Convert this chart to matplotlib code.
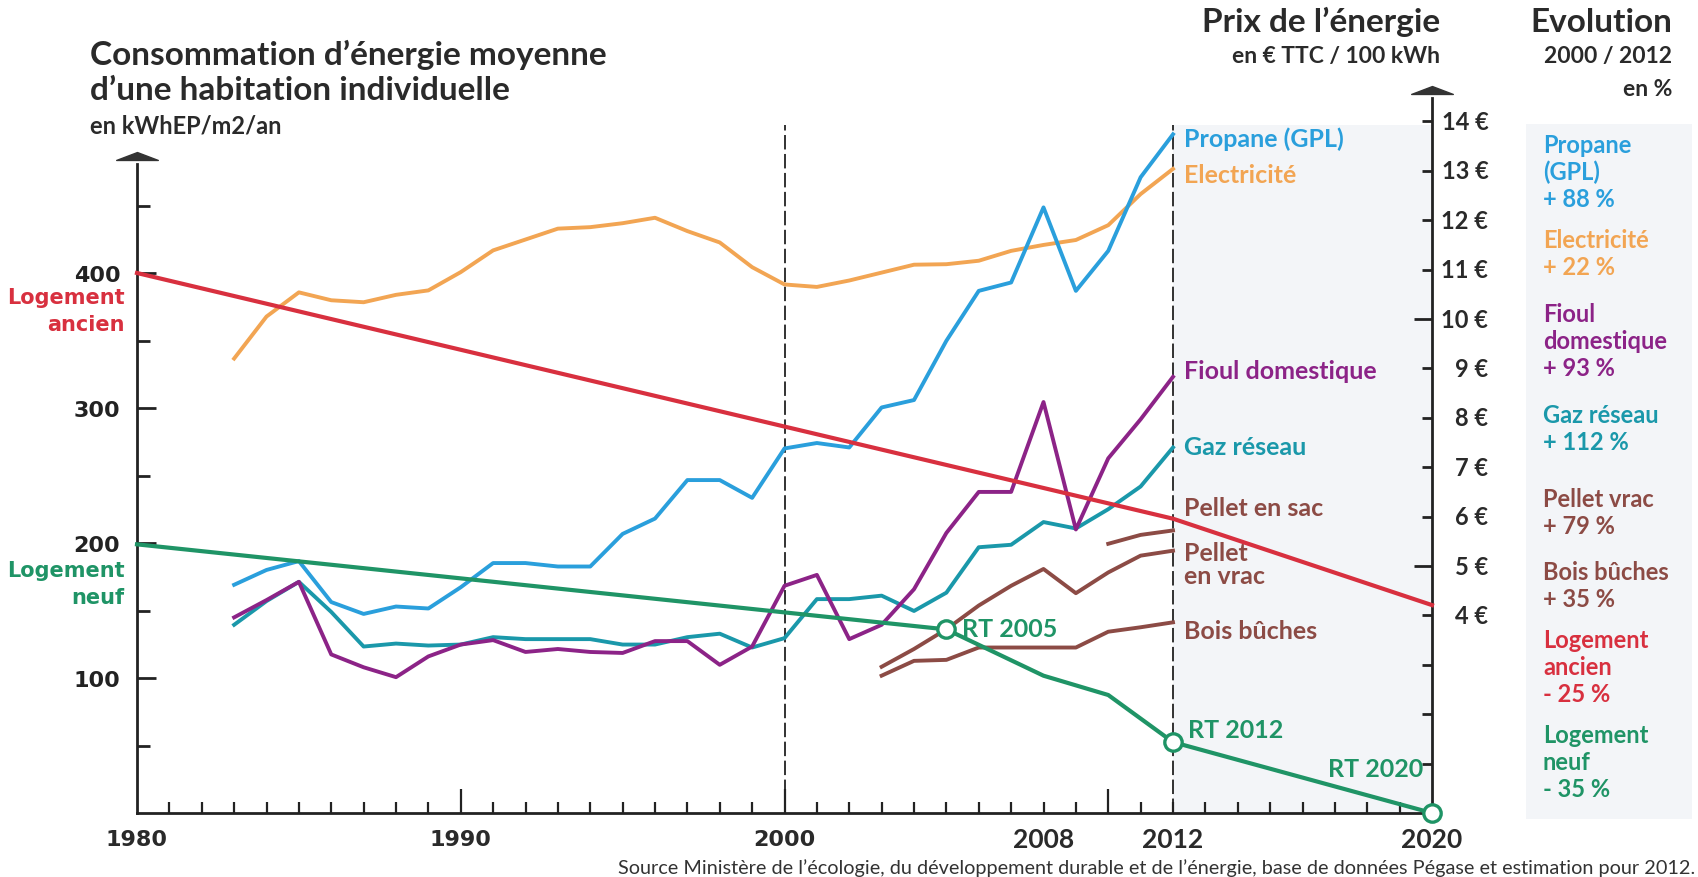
import matplotlib
matplotlib.use("Agg")
import matplotlib.pyplot as plt
from matplotlib.path import Path
from matplotlib.patches import Rectangle

# ---------------- data ----------------
years = list(range(1983, 2013))
propane = [4.62, 4.92, 5.10, 4.27, 4.03, 4.18, 4.14, 4.57, 5.06, 5.06, 4.99, 4.99, 5.65, 5.96, 6.74,
           6.74, 6.38, 7.38, 7.49, 7.40, 8.21, 8.36, 9.56, 10.57, 10.74, 12.26, 10.57, 11.38, 12.87, 13.74]
electricite = [9.20, 10.05, 10.54, 10.38, 10.34, 10.49, 10.58, 10.95, 11.39, 11.61, 11.83, 11.86, 11.94, 12.05,
               11.78, 11.55, 11.05, 10.70, 10.65, 10.78, 10.94, 11.10, 11.11, 11.18, 11.38, 11.50, 11.60,
               11.90, 12.53, 13.04]
fioul = [3.96, 4.31, 4.68, 3.21, 2.95, 2.75, 3.17, 3.41, 3.50, 3.26, 3.32, 3.26, 3.24, 3.48, 3.48, 3.00,
         3.37, 4.60, 4.82, 3.52, 3.81, 4.53, 5.67, 6.50, 6.50, 8.32, 5.74, 7.18, 7.97, 8.83]
gaz = [3.81, 4.29, 4.68, 4.07, 3.37, 3.43, 3.39, 3.41, 3.56, 3.52, 3.52, 3.52, 3.41, 3.41, 3.56, 3.63,
       3.35, 3.54, 4.33, 4.33, 4.40, 4.09, 4.46, 5.38, 5.43, 5.89, 5.76, 6.15, 6.61, 7.40]
years_bois = list(range(2003, 2013))
pellet_vrac = [2.96, 3.32, 3.72, 4.20, 4.60, 4.94, 4.45, 4.87, 5.21, 5.31]
bois_buches = [2.78, 3.08, 3.10, 3.35, 3.35, 3.35, 3.35, 3.67, 3.76, 3.86]
years_sac = [2010, 2011, 2012]
pellet_sac = [5.45, 5.63, 5.72]

years_ancien = [1980, 2012, 2020]
logement_ancien = [400, 218, 154]
years_neuf = [1980, 2005, 2008, 2010, 2012, 2020]
logement_neuf = [199, 136, 101.7, 87.4, 52.5, 0]
rt_years = [2005, 2012, 2020]
rt_values = [136, 52.5, 0]
rt_labels = ["RT 2005", "RT 2012", "RT 2020"]

left_major = [100, 200, 300, 400]
left_minor = [50, 150, 250, 350, 450]
right_labels = [4, 5, 6, 7, 8, 9, 10, 11, 12, 13, 14]
right_minor = list(range(1, 15))
right_major = [5, 10]
x_labels = [1980, 1990, 2000, 2008, 2012, 2020]
x_major = [1990, 2000, 2010]

series_labels = ["Propane (GPL)", "Electricité", "Fioul domestique", "Gaz réseau",
                 "Pellet en sac", "Pellet\nen vrac", "Bois bûches"]
series_label_y = [13.66, 12.93, 8.96, 7.41, 6.19, 5.04, 3.69]

evo_lines = [["Propane", "(GPL)", "+ 88 %"], ["Electricité", "+ 22 %"],
             ["Fioul", "domestique", "+ 93 %"], ["Gaz réseau", "+ 112 %"],
             ["Pellet vrac", "+ 79 %"], ["Bois bûches", "+ 35 %"],
             ["Logement", "ancien", "- 25 %"], ["Logement", "neuf", "- 35 %"]]

# ---------------- style ----------------
C_PROP = "#2a9fdc"
C_ELEC = "#f2a553"
C_FIOUL = "#8c2387"
C_GAZ = "#1a98aa"
C_BOIS = "#8c4b45"
C_RED = "#d8303f"
C_GREEN = "#1f9466"
C_TXT = "#2a2a2a"
C_TINT = "#f3f5f8"
LATO = ["Lato", "DejaVu Sans"]
VERD = ["DejaVu Sans"]
evo_colors = [C_PROP, C_ELEC, C_FIOUL, C_GAZ, C_BOIS, C_BOIS, C_RED, C_GREEN]
evo_first_baseline = [153, 248, 322, 423, 507, 580, 648, 743]
series_colors = [C_PROP, C_ELEC, C_FIOUL, C_GAZ, C_BOIS, C_BOIS, C_BOIS]

W, H = 1698, 878
def fx(px):
    return px / W
def fy(py):
    return 1 - py / H

X0, X1 = 137, 1432      # pixel x of 1980 and 2020
Y0 = 814                # pixel y of value 0
PX_PER_KWH = 1.35
KWH_PER_EUR = 36.59
YMAX = 530

fig = plt.figure(figsize=(W / 100, H / 100), dpi=100)
fig.patch.set_facecolor("white")
ax = fig.add_axes([fx(X0), 1 - Y0 / H, (X1 - X0) / W, YMAX * PX_PER_KWH / H])
ax2 = ax.twinx()
ax.set_xlim(1980, 2020)
ax.set_ylim(0, YMAX)
ax2.set_ylim(0, YMAX / KWH_PER_EUR)
ax.set_zorder(ax2.get_zorder() + 1)
ax.patch.set_visible(False)
ax2.patch.set_visible(False)

# background tints
ax2.axvspan(2012, 2020, ymin=0, ymax=510 / YMAX, color=C_TINT, zorder=0, lw=0)
fig.add_artist(Rectangle((fx(1526), fy(820)), (1692 - 1526) / W, (820 - 125) / H,
                         transform=fig.transFigure, color=C_TINT, zorder=0, lw=0))

# dashed reference lines
for yr in [2000, 2012]:
    ax2.plot([yr, yr], [0, 510 / KWH_PER_EUR], color="#222222", lw=1.3, dashes=(8, 2.5), zorder=1)

# spines
for s in ["top", "right"]:
    ax.spines[s].set_visible(False)
for s in ["top", "left", "bottom"]:
    ax2.spines[s].set_visible(False)
ax.spines["left"].set_bounds(0, 481)
ax.spines["bottom"].set_bounds(1980, 2020)
ax2.spines["right"].set_bounds(0, 14.47)
for sp in [ax.spines["left"], ax.spines["bottom"], ax2.spines["right"]]:
    sp.set_linewidth(2.0)
    sp.set_color("#222222")

# arrows on top of axes
tri = Path([(-1, -0.19), (1, -0.19), (0, 0.19), (-1, -0.19)],
           [Path.MOVETO, Path.LINETO, Path.LINETO, Path.CLOSEPOLY])
ax.plot([1980], [487], marker=tri, ms=30, color="#333333", clip_on=False, zorder=5)
ax2.plot([2020], [14.63], marker=tri, ms=30, color="#333333", clip_on=False, zorder=5)

# ticks
ax.set_yticks(left_major)
ax.set_yticks(left_minor, minor=True)
ax.set_yticklabels([str(v) for v in left_major], fontdict=dict(family=VERD, weight="bold", size=16, color=C_TXT))
ax.tick_params(axis="y", which="major", direction="in", length=14, width=2, pad=12, colors="#222222")
ax.tick_params(axis="y", which="minor", direction="in", length=9, width=2, colors="#222222")
ax.set_xticks(x_major)
ax.set_xticks(list(range(1981, 2020)), minor=True)
ax.tick_params(axis="x", which="major", direction="in", length=17, width=1.6, labelbottom=False, colors="#222222")
ax.tick_params(axis="x", which="minor", direction="in", length=8, width=1.6, colors="#222222")
ax2.set_yticks(right_major)
ax2.set_yticks(right_minor, minor=True)
ax2.tick_params(axis="y", which="major", direction="in", length=13, width=2, labelright=False, colors="#222222")
ax2.tick_params(axis="y", which="minor", direction="in", length=7, width=2, colors="#222222")

for v in right_labels:
    ax2.annotate(f"{v} €", xy=(1, v), xycoords=("axes fraction", "data"), xytext=(40.5, 0),
                 textcoords="offset points", ha="right", va="center", family=LATO,
                 weight="bold", size=17, color=C_TXT)

for yr in x_labels:
    fam, sz = (VERD, 16) if yr <= 2000 else (LATO, 19)
    ax.annotate(str(yr), xy=(yr, 0), xytext=(0, -19), textcoords="offset points",
                ha="center", va="center", family=fam, weight="bold", size=sz, color=C_TXT,
                annotation_clip=False)

# price series
lw = 2.8
ax2.plot(years, electricite, color=C_ELEC, lw=lw, zorder=3)
ax2.plot(years, propane, color=C_PROP, lw=lw, zorder=3)
ax2.plot(years, gaz, color=C_GAZ, lw=lw, zorder=3)
ax2.plot(years, fioul, color=C_FIOUL, lw=lw, zorder=3)
ax2.plot(years_bois, pellet_vrac, color=C_BOIS, lw=lw, zorder=3)
ax2.plot(years_bois, bois_buches, color=C_BOIS, lw=lw, zorder=3)
ax2.plot(years_sac, pellet_sac, color=C_BOIS, lw=lw, zorder=3)

for txt, yv, col in zip(series_labels, series_label_y, series_colors):
    ax2.text(2012.35, yv, txt, color=col, family=LATO, weight="bold", size=18,
             ha="left", va="center", linespacing=1.0, zorder=4)

# consumption series
ax.plot(years_ancien, logement_ancien, color=C_RED, lw=3.0, zorder=3, clip_on=False)
ax.plot(years_neuf, logement_neuf, color=C_GREEN, lw=3.0, zorder=3, clip_on=False)
ax.plot(rt_years, rt_values, ls="none", marker="o", ms=12.5, mew=2.4, mfc="white",
        mec=C_GREEN, zorder=6, clip_on=False)
ax.text(2005.47, 137, rt_labels[0], color=C_GREEN, family=LATO, weight="bold", size=18, ha="left", va="center")
ax.text(2012.45, 62, rt_labels[1], color=C_GREEN, family=LATO, weight="bold", size=18, ha="left", va="center")
ax.text(2019.72, 33, rt_labels[2], color=C_GREEN, family=LATO, weight="bold", size=18, ha="right", va="center")

# left labels for housing lines
for txt, yv, col in [("Logement", 382, C_RED), ("ancien", 362, C_RED),
                     ("Logement", 180, C_GREEN), ("neuf", 160, C_GREEN)]:
    ax.annotate(txt, xy=(0, yv), xycoords=("axes fraction", "data"), xytext=(-9, 0),
                textcoords="offset points", ha="right", va="center", family=VERD,
                weight="bold", size=15, color=col)

# titles
fig.text(fx(90), fy(65), "Consommation d’énergie moyenne", family=LATO, weight="bold", size=24,
         color=C_TXT, va="baseline", ha="left")
fig.text(fx(90), fy(100), "d’une habitation individuelle", family=LATO, weight="bold", size=24,
         color=C_TXT, va="baseline", ha="left")
fig.text(fx(90), fy(133), "en kWhEP/m2/an", family=LATO, weight="bold", size=17,
         color=C_TXT, va="baseline", ha="left")
fig.text(fx(1440), fy(32), "Prix de l’énergie", family=LATO, weight="bold", size=24,
         color=C_TXT, va="baseline", ha="right")
fig.text(fx(1440), fy(63), "en € TTC / 100 kWh", family=LATO, weight="bold", size=16.5,
         color=C_TXT, va="baseline", ha="right")
fig.text(fx(1672), fy(32), "Evolution", family=LATO, weight="bold", size=24,
         color=C_TXT, va="baseline", ha="right")
fig.text(fx(1672), fy(63), "2000 / 2012", family=LATO, weight="bold", size=16.5,
         color=C_TXT, va="baseline", ha="right")
fig.text(fx(1672), fy(96), "en %", family=LATO, weight="bold", size=16.5,
         color=C_TXT, va="baseline", ha="right")

# evolution panel
for lines, col, b0 in zip(evo_lines, evo_colors, evo_first_baseline):
    for i, t in enumerate(lines):
        fig.text(fx(1543), fy(b0 + i * 27), t, family=LATO, weight="bold", size=17,
                 color=col, va="baseline", ha="left")

fig.text(fx(1695), fy(874), "Source Ministère de l’écologie, du développement durable et de l’énergie, "
         "base de données Pégase et estimation pour 2012.", family=LATO, size=14.3,
         color="#333333", va="baseline", ha="right")

fig.savefig("out.png", dpi=100, facecolor="white")
